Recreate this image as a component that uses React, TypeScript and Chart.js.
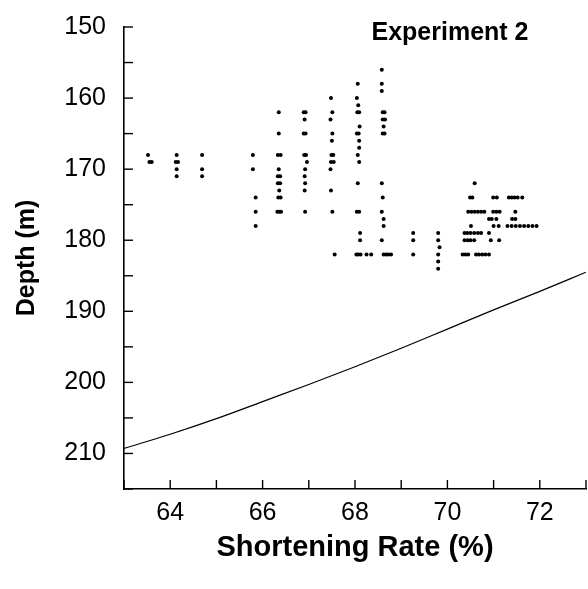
import React, { useEffect, useRef } from 'react';
import { Chart, registerables } from 'chart.js';

Chart.register(...registerables);

const chartTitle = 'Experiment 2';
const xAxisTitle = 'Shortening Rate (%)';
const yAxisTitle = 'Depth (m)';

const xMin = 63;
const xMax = 73;
const yMin = 150;
const yMax = 215;

// smooth reference curve (rate %, depth m)
const curveRate = [63, 64, 65, 66, 67, 68, 69, 70, 71, 72, 73];
const curveDepth = [209.3, 207.3, 205.1, 202.7, 200.3, 197.8, 195.2, 192.5, 189.8, 187.2, 184.5];

// observed points: [rate %, depth m]
const dotPoints: [number, number][] = [
  [63.52, 168], [63.55, 169], [63.6, 169],
  [64.14, 168], [64.12, 169], [64.17, 169], [64.14, 170], [64.14, 171],
  [64.69, 168], [64.69, 170], [64.69, 171],
  [65.79, 168], [65.79, 170], [65.85, 174], [65.85, 176], [65.85, 178],
  [66.35, 162], [66.35, 165], [66.33, 168], [66.39, 168], [66.35, 170], [66.33, 171], [66.38, 171],
  [66.33, 172], [66.38, 172], [66.36, 173], [66.34, 174], [66.39, 174], [66.32, 176], [66.36, 176], [66.4, 176],
  [66.89, 162], [66.93, 162], [66.91, 163], [66.89, 165], [66.93, 165], [66.9, 168], [66.94, 168],
  [66.96, 169], [66.92, 170], [66.91, 171], [66.92, 172], [66.91, 173], [66.92, 176],
  [67.48, 160], [67.51, 162], [67.47, 163], [67.51, 165], [67.5, 166], [67.49, 168], [67.53, 168],
  [67.48, 169], [67.54, 169], [67.47, 170], [67.48, 173], [67.51, 176], [67.56, 182],
  [68.06, 158], [68.04, 160], [68.07, 161], [68.05, 162], [68.09, 162], [68.1, 164], [68.04, 165],
  [68.08, 165], [68.09, 166], [68.09, 167], [68.06, 168], [68.09, 169], [68.06, 172], [68.04, 176],
  [68.09, 176], [68.11, 179], [68.11, 180], [68.03, 182], [68.07, 182], [68.12, 182], [68.25, 182], [68.35, 182],
  [68.58, 156], [68.58, 158], [68.58, 159], [68.6, 162], [68.64, 162], [68.6, 163], [68.65, 163],
  [68.62, 164], [68.6, 165], [68.64, 165], [68.58, 172], [68.6, 174], [68.58, 176], [68.62, 177],
  [68.62, 178], [68.58, 180], [68.62, 182], [68.67, 182], [68.72, 182], [68.78, 182],
  [69.26, 179], [69.26, 180], [69.26, 182],
  [69.8, 179], [69.8, 180], [69.83, 181], [69.8, 182], [69.8, 183], [69.8, 184],
  [70.59, 172],
  [70.49, 174], [70.54, 174], [70.99, 174], [71.07, 174], [71.33, 174], [71.39, 174], [71.45, 174], [71.52, 174], [71.62, 174],
  [70.45, 176], [70.52, 176], [70.59, 176], [70.66, 176], [70.73, 176], [70.8, 176], [70.99, 176], [71.06, 176], [71.13, 176], [71.47, 176],
  [70.9, 177], [70.96, 177], [71.06, 177], [71.4, 177], [71.47, 177],
  [70.51, 178], [71.0, 178], [71.11, 178], [71.3, 178], [71.39, 178], [71.48, 178], [71.57, 178], [71.66, 178], [71.75, 178], [71.84, 178], [71.93, 178],
  [70.37, 179], [70.43, 179], [70.5, 179], [70.58, 179], [70.66, 179], [70.73, 179], [70.9, 179],
  [70.37, 180], [70.44, 180], [70.5, 180], [70.58, 180], [70.94, 180], [71.12, 180],
  [70.33, 182], [70.39, 182], [70.45, 182], [70.62, 182], [70.68, 182], [70.75, 182], [70.82, 182], [70.9, 182],
];

const FONT = "'Liberation Sans', Arial, Helvetica, sans-serif";

export default function App() {
  const canvasRef = useRef<HTMLCanvasElement | null>(null);

  useEffect(() => {
    const canvas = canvasRef.current;
    if (!canvas) return;

    const inwardTicks = {
      id: 'inwardTicks',
      afterDraw(chart: any) {
        const { ctx, chartArea } = chart;
        const xs = chart.scales.x;
        const ys = chart.scales.y;
        ctx.save();
        ctx.strokeStyle = '#000';
        ctx.lineWidth = 1.4;
        ys.ticks.forEach((t: any) => {
          const py = ys.getPixelForValue(t.value);
          ctx.beginPath();
          ctx.moveTo(chartArea.left, py);
          ctx.lineTo(chartArea.left + 9, py);
          ctx.stroke();
        });
        xs.ticks.forEach((t: any) => {
          const px = xs.getPixelForValue(t.value);
          ctx.beginPath();
          ctx.moveTo(px, chartArea.bottom);
          ctx.lineTo(px, chartArea.bottom - 9);
          ctx.stroke();
        });
        ctx.fillStyle = '#000';
        ctx.font = `bold 25px ${FONT}`;
        ctx.textAlign = 'center';
        ctx.textBaseline = 'alphabetic';
        ctx.fillText(chartTitle, chartArea.right - 136, chartArea.top + 13);
        ctx.restore();
      },
    };

    const chart = new Chart(canvas, {
      type: 'scatter',
      data: {
        datasets: [
          {
            data: dotPoints.map(([x, y]) => ({ x, y })),
            backgroundColor: '#000',
            borderWidth: 0,
            pointRadius: 2,
            pointHoverRadius: 2,
          },
          {
            data: curveRate.map((x, i) => ({ x, y: curveDepth[i] })),
            showLine: true,
            borderColor: '#000',
            borderWidth: 1.2,
            pointRadius: 0,
            cubicInterpolationMode: 'monotone',
          },
        ],
      },
      options: {
        responsive: false,
        animation: false,
        devicePixelRatio: 1,
        layout: { padding: { top: 27, right: -2, left: 0, bottom: 0 } },
        plugins: {
          legend: { display: false },
          tooltip: { enabled: false },
        },
        scales: {
          x: {
            type: 'linear',
            position: 'bottom',
            min: xMin,
            max: xMax,
            grid: { drawOnChartArea: false, drawTicks: false },
            border: { display: true, color: '#000', width: 1.6 },
            ticks: {
              stepSize: 1,
              padding: 9,
              color: '#000',
              font: { family: FONT, size: 25 },
              maxRotation: 0,
              autoSkip: false,
              callback: (v: any) => (Number(v) % 2 === 0 ? String(v) : ''),
            },
            title: {
              display: true,
              text: xAxisTitle,
              color: '#000',
              font: { family: FONT, size: 29, weight: 'bold' },
              padding: { top: 0, bottom: 24 },
            },
            afterFit: (s: any) => {
              s.height = 100;
              s.paddingLeft = 0;
              s.paddingRight = 0;
            },
          },
          y: {
            type: 'linear',
            reverse: true,
            min: yMin,
            max: yMax,
            grid: { drawOnChartArea: false, drawTicks: false },
            border: { display: true, color: '#000', width: 1.6 },
            ticks: {
              stepSize: 5,
              padding: 18,
              color: '#000',
              font: { family: FONT, size: 25 },
              autoSkip: false,
              callback: (v: any) => (Number(v) % 10 === 0 ? String(v) : ''),
            },
            title: {
              display: true,
              text: yAxisTitle,
              color: '#000',
              font: { family: FONT, size: 25, weight: 'bold' },
              padding: { top: 12, bottom: 0 },
            },
            afterFit: (s: any) => {
              s.width = 124;
              s.paddingTop = 0;
              s.paddingBottom = 0;
            },
          },
        },
      },
      plugins: [inwardTicks],
    } as any);

    return () => chart.destroy();
  }, []);

  return (
    <div style={{ position: 'absolute', left: 0, top: 0, width: 588, height: 589, background: '#fff' }}>
      <canvas ref={canvasRef} width={588} height={589} style={{ display: 'block' }} />
    </div>
  );
}
